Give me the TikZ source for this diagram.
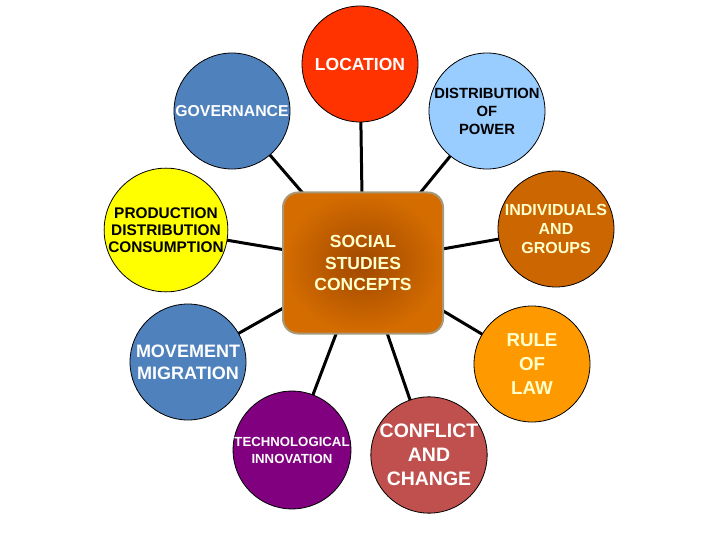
\documentclass[tikz,border=0pt]{standalone}
\usepackage{fontspec}
\setmainfont{Liberation Sans}
\usepackage{tikz}
\usetikzlibrary{backgrounds}
\definecolor{locred}{HTML}{FF3300}
\definecolor{govblue}{HTML}{4F81BD}
\definecolor{powblue}{HTML}{99CCFF}
\definecolor{indbrown}{HTML}{CC6600}
\definecolor{prodyellow}{HTML}{FFFF00}
\definecolor{techpurple}{HTML}{800080}
\definecolor{confred}{HTML}{C0504D}
\definecolor{lawor}{HTML}{FF9900}
\definecolor{cream}{HTML}{FFFFCC}
\definecolor{hubin}{HTML}{A04800}
\definecolor{hubout}{HTML}{D46C00}
\definecolor{hubedge}{HTML}{A8987A}
\newcommand{\cfont}[2]{\bfseries\fontsize{#1}{#2}\selectfont}
\tikzset{
  concept/.style={
    circle, draw=black, line width=0.8pt, fill=#1,
    minimum size=116pt, inner sep=0pt, align=center
  },
  concept/.default=govblue,
  hub/.style={
    rectangle, rounded corners=15pt, draw=hubedge, line width=2pt,
    inner color=hubin, outer color=hubout,
    minimum width=160pt, minimum height=141pt,
    text=cream, align=center, font=\cfont{17.5}{21.5}
  },
  spoke/.style={line width=3pt, black},
}
\begin{document}
\begin{tikzpicture}[x=1pt, y=-1pt]
\useasboundingbox (0,0) rectangle (720,540);
% centre
\node[hub] (ssc) at (363,263) {SOCIAL\\STUDIES\\CONCEPTS};
% ring of concepts
\node[concept=locred, text=white, font=\cfont{17.5}{21}] (loc) at (360,64) {LOCATION};
\node[concept=govblue, text=white, font=\cfont{15.8}{19}] (gov) at (232,111) {GOVERNANCE};
\node[concept=powblue, text=black, font=\cfont{14.8}{18}] (pow) at (487,111) {DISTRIBUTION\\OF\\POWER};
\node[concept=indbrown, text=cream, font=\cfont{16}{19}] (ind) at (556,229) {INDIVIDUALS\\AND\\GROUPS};
\node[concept=prodyellow, text=black, font=\cfont{15.4}{17}] (prod) at (166,230) {PRODUCTION\\DISTRIBUTION\\CONSUMPTION};
\node[concept=govblue, text=white, font=\cfont{18}{22}] (move) at (188,362) {MOVEMENT\\MIGRATION};
\node[concept=techpurple, text=white, font=\cfont{13.2}{17}] (tech) at (292,450) {TECHNOLOGICAL\\INNOVATION};
\node[concept=confred, text=white, font=\cfont{19.5}{24}] (conf) at (429,455) {CONFLICT\\AND\\CHANGE};
\node[concept=lawor, text=cream, font=\cfont{18.7}{24}] (law) at (532,364) {RULE\\OF\\LAW};
% spokes
\begin{scope}[on background layer]
\foreach \c in {loc,gov,pow,ind,prod,move,tech,conf,law}
  \draw[spoke] (ssc.center) -- (\c.center);
\end{scope}
\end{tikzpicture}
\end{document}
